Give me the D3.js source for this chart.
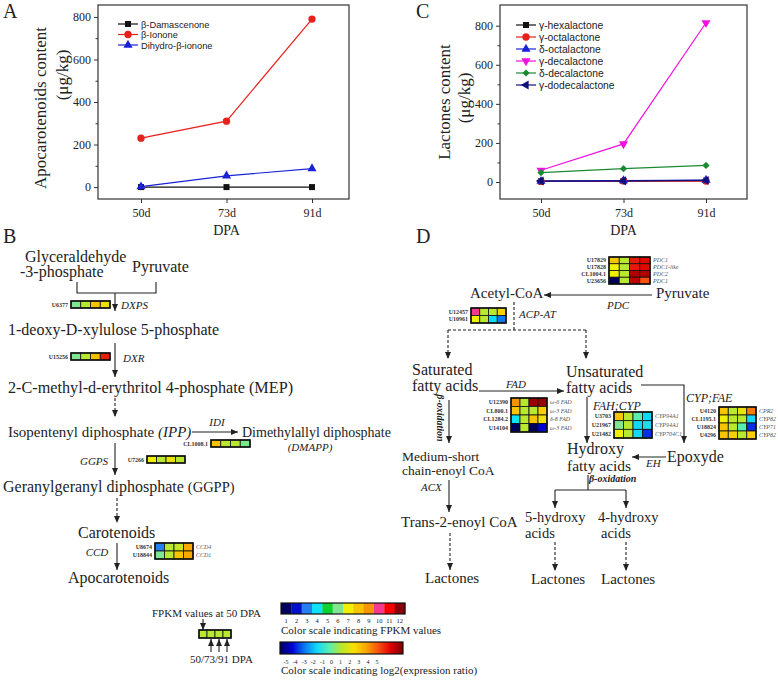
<!DOCTYPE html>
<html>
<head>
<meta charset="utf-8">
<script src="https://cdn.jsdelivr.net/npm/d3@7"></script>
<style>
body{margin:0;background:#fff;}
</style>
</head>
<body>
<div id="Figure"></div>
<script>
//Chart data------------------------------------------------------------------------------------------------
var Days = ["50d","73d","91d"];
var YTicks = [0,200,400,600,800];
var YMinorTicks = [100,300,500,700];

var ApoNames = ["β-Damascenone","β-Ionone","Dihydro-β-ionone"];
var Damascenone = [0,0,0];
var Ionone = [230,310,790];
var DihydroIonone = [2,53,87];

var LacNames = ["γ-hexalactone","γ-octalactone","δ-octalactone","γ-decalactone","δ-decalactone","γ-dodecalactone"];
var Hexalactone = [3,5,7];
var Octalactone = [3,5,5];
var DeltaOctalactone = [4,7,10];
var Decalactone = [60,195,815];
var DeltaDecalactone = [48,68,85];
var Dodecalactone = [5,6,8];

//Colour scales of the heat maps-----------------------------------------------------------------------------
var FpkmLevels = [1,2,3,4,5,6,7,8,9,10,11,12];
var FpkmColors = ["#00005e","#0010c8","#2480f0","#10e0f8","#10d030","#80e690","#f0f000","#f8c400","#f89400","#f83890","#f80000","#8a0008"];
var RatioTicks = [-5,-4,-3,-2,-1,0,1,2,3,4,5];
var RatioColors = ["#00005a","#0000d8","#0a78f0","#10d8f8","#58ecb0","#b8e830","#f8e000","#f8a800","#f85010","#e00000","#7a0000"];

//Genes: id, FPKM level at 50 DPA, log2 ratio at 50/73/91 DPA, gene name
var DxpsIds = ["U6377"];        var DxpsFpkm = [6];  var DxpsRatio = [[0,1.5,0.8]];
var DxrIds = ["U15256"];        var DxrFpkm = [6];   var DxrRatio = [[0,1.6,3.6]];
var IdiIds = ["CL1008.1"];      var IdiFpkm = [8];   var IdiRatio = [[0,0,-0.7]];
var GgpsIds = ["U7266"];        var GgpsFpkm = [7];  var GgpsRatio = [[0,0.8,0]];
var CcdIds = ["U8674","U18844"];var CcdFpkm = [3,6]; var CcdRatio = [[0,0.2,2],[0,1.5,2]];
var CcdGenes = ["CCD4","CCD1"];
var PdcIds = ["U17829","U17828","CL1004.1","U23656"];
var PdcFpkm = [8,7,7,1];
var PdcRatio = [[0,3.7,3.9],[0,3.7,3.9],[0,4.5,4.5],[0,4.3,3]];
var PdcGenes = ["PDC1","PDC1-like","PDC2","PDC1"];
var AcpIds = ["U12457","U10961"];
var AcpFpkm = [10,7];
var AcpRatio = [[0,0,1.3],[0,-2,-3]];
var FadIds = ["U12390","CL800.1","CL1284.2","U14104"];
var FadFpkm = [9,8,4,1];
var FadRatio = [[0,4.7,4.7],[0,0,1.3],[0,1.5,0.9],[0,-5,-4]];
var FadGenes = ["ω-6 FAD","ω-3 FAD","δ-8 FAD","ω-3 FAD"];
var FahIds = ["U3703","U21967","U21482"];
var FahFpkm = [8,6,7];
var FahRatio = [[0,-1,-2],[0,-2,-1.8],[0,-2,-3.6]];
var FahGenes = ["CYP94A1","CYP94A1","CYP704C1"];
var CypIds = ["U4120","CL1195.1","U18824","U4296"];
var CypFpkm = [8,7,8,8];
var CypRatio = [[0,0.8,2.5],[0,0,-2],[0,-1,-3.6],[1.3,0,1.3]];
var CypGenes = ["CPR2","CYP82","CYP71","CYP82"];

var FpkmColor = d3.scaleOrdinal().domain(FpkmLevels).range(FpkmColors);
var RatioColor = d3.scaleLinear().domain(RatioTicks).range(RatioColors);

var Serif = "'Liberation Serif','Times New Roman',serif";
var Sans = "'Liberation Sans',Arial,sans-serif";
var Ink = "#222";

var Svg = d3.select("#Figure").append("svg")
	.attr("width",778)
	.attr("height",680)
	.style("display","block");

//Arrow head marker-------------------------------------------------------------------------------------------
Svg.append("defs").append("marker")
	.attr("id","Arrow")
	.attr("markerUnits","userSpaceOnUse")
	.attr("markerWidth",7)
	.attr("markerHeight",6)
	.attr("refX",7)
	.attr("refY",3)
	.attr("orient","auto")
	.append("path")
	.attr("d","M0,0L7,3L0,6z")
	.attr("fill",Ink);

//Write a text----------------------------------------------------------------------------------------------------
function Write(x,y,str,size,opts)
{
	opts = opts || {};
	var t = Svg.append("text")
		.attr("x",x)
		.attr("y",y)
		.attr("fill",opts.fill || Ink)
		.style("font-family",opts.family || Serif)
		.style("font-size",size + "px")
		.attr("text-anchor",opts.anchor || "start")
		.text(str);
	if(opts.italic) t.style("font-style","italic");
	if(opts.bold) t.style("font-weight","bold");
	if(opts.rotate) t.attr("transform","rotate(" + opts.rotate + "," + x + "," + y + ")");
	return t;
}

//Draw a line, arrow or dashed arrow-------------------------------------------------------------------------------
function Line(d,arrow,dashed)
{
	var p = Svg.append("path")
		.attr("d",d)
		.attr("fill","none")
		.attr("stroke",Ink)
		.attr("stroke-width",1.1);
	if(arrow) p.attr("marker-end","url(#Arrow)");
	if(dashed) p.attr("stroke-dasharray","3,2");
	return p;
}

//Heat map of genes---------------------------------------------------------------------------------------------
function Heatmap(x,y,cw,ch,ids,fpkm,ratio,genes)
{
	var g = Svg.append("g");
	var Rows = ids.map(function(id,i){
		return [FpkmColor(fpkm[i])].concat(ratio[i].map(function(r){return RatioColor(r);}));
	});
	var yBand = d3.scaleBand().domain(d3.range(ids.length)).range([y,y + ch*ids.length]);
	var xBand = d3.scaleBand().domain(d3.range(4)).range([x,x + cw*4]);
	Rows.forEach(function(row,i){
		row.forEach(function(c,j){
			g.append("rect")
				.attr("x",xBand(j))
				.attr("y",yBand(i))
				.attr("width",xBand.bandwidth())
				.attr("height",yBand.bandwidth())
				.attr("fill",c)
				.attr("stroke","#111")
				.attr("stroke-width",0.8);
		});
		g.append("text")
			.attr("x",x - 3)
			.attr("y",yBand(i) + yBand.bandwidth()/2 + 2)
			.attr("text-anchor","end")
			.style("font-family",Serif)
			.style("font-size","6px")
			.style("font-weight","bold")
			.attr("fill","#333")
			.text(ids[i]);
		if(genes)
		{
			g.append("text")
				.attr("x",x + cw*4 + 3)
				.attr("y",yBand(i) + yBand.bandwidth()/2 + 2)
				.style("font-family",Serif)
				.style("font-size","6px")
				.style("font-style","italic")
				.attr("fill","#555")
				.text(genes[i]);
		}
	});
	g.append("rect")
		.attr("x",x)
		.attr("y",y)
		.attr("width",cw*4)
		.attr("height",ch*ids.length)
		.attr("fill","none")
		.attr("stroke","#111")
		.attr("stroke-width",1.6);
}

//Line chart with markers------------------------------------------------------------------------------------------
function LineChart(box,yDomain,xRange,names,series,colors,symbols,legend,title)
{
	var x = d3.scalePoint().domain(Days).range(xRange);
	var y = d3.scaleLinear().domain(yDomain).range([box.bottom,box.top]);
	var g = Svg.append("g");

	g.append("g")
		.attr("transform","translate(" + box.left + ",0)")
		.call(d3.axisLeft(y).tickValues(YTicks).tickSize(4).tickPadding(3));
	g.append("g")
		.attr("transform","translate(" + box.left + ",0)")
		.call(d3.axisLeft(y).tickValues(YMinorTicks).tickSize(2.5).tickFormat(""));
	g.append("g")
		.attr("transform","translate(0," + box.bottom + ")")
		.call(d3.axisBottom(x).tickSize(4).tickPadding(5));
	g.selectAll(".domain").remove();
	g.selectAll(".tick line").attr("stroke","#333");
	g.selectAll(".tick text")
		.attr("fill",Ink)
		.style("font-family",Serif)
		.style("font-size","12px");

	g.append("rect")
		.attr("x",box.left)
		.attr("y",box.top)
		.attr("width",box.right - box.left)
		.attr("height",box.bottom - box.top)
		.attr("fill","none")
		.attr("stroke","#333")
		.attr("stroke-width",1.2);

	var line = d3.line()
		.x(function(d,i){return x(Days[i]);})
		.y(function(d){return y(d);});

	series.forEach(function(s,k){
		g.append("path")
			.attr("d",line(s))
			.attr("fill","none")
			.attr("stroke",colors[k])
			.attr("stroke-width",1.2);
	});
	series.forEach(function(s,k){
		s.forEach(function(v,i){
			g.append("path")
				.attr("d",d3.symbol().type(symbols[k].type).size(symbols[k].size)())
				.attr("transform","translate(" + x(Days[i]) + "," + y(v) + ") rotate(" + symbols[k].rot + ")")
				.attr("fill",colors[k]);
		});
	});

	//Legend
	names.forEach(function(n,k){
		var ly = legend.y + k*legend.step;
		g.append("line")
			.attr("x1",legend.x)
			.attr("x2",legend.x + 20)
			.attr("y1",ly)
			.attr("y2",ly)
			.attr("stroke",colors[k])
			.attr("stroke-width",1.2);
		g.append("path")
			.attr("d",d3.symbol().type(symbols[k].type).size(symbols[k].size)())
			.attr("transform","translate(" + (legend.x + 10) + "," + ly + ") rotate(" + symbols[k].rot + ")")
			.attr("fill",colors[k]);
		g.append("text")
			.attr("x",legend.x + 23)
			.attr("y",ly + 3.5)
			.attr("fill",Ink)
			.style("font-family",Sans)
			.style("font-size",legend.size + "px")
			.text(n);
	});

	//Titles
	Write(title.x1,title.y1,title.line1,17,{anchor:"middle",rotate:-90});
	Write(title.x2,title.y2,"(μg/kg)",17,{anchor:"middle",rotate:-90});
	Write((xRange[0] + xRange[1])/2,235,"DPA",14,{anchor:"middle"});
}

//Panel A---------------------------------------------------------------------------------------------------------
var Square = {type:d3.symbolSquare,size:36,rot:0};
var Circle = {type:d3.symbolCircle,size:42,rot:0};
var TriUp = {type:d3.symbolTriangle,size:36,rot:0};
var TriDown = {type:d3.symbolTriangle,size:36,rot:180};
var Diamond = {type:d3.symbolSquare,size:26,rot:45};
var TriLeft = {type:d3.symbolTriangle,size:36,rot:-90};

LineChart({left:98,right:349,top:5,bottom:199},[-56,856],[141,312],
	ApoNames,[Damascenone,Ionone,DihydroIonone],
	["#111111","#e8201c","#1a22d8"],[Square,Circle,TriUp],
	{x:118,y:24,step:10.5,size:9.3},
	{line1:"Apocarotenoids content",x1:46,y1:108,x2:68,y2:75});

//Panel C---------------------------------------------------------------------------------------------------------
LineChart({left:500,right:747,top:5,bottom:199},[-87,906],[541,706],
	LacNames,[Hexalactone,Octalactone,DeltaOctalactone,Decalactone,DeltaDecalactone,Dodecalactone],
	["#111111","#e8201c","#1a22d8","#f010e0","#1a8a30","#10107a"],[Square,Circle,TriUp,TriDown,Diamond,TriLeft],
	{x:516,y:25,step:12,size:10.3},
	{line1:"Lactones content",x1:450,y1:102,x2:470,y2:98});

//Panel letters----------------------------------------------------------------------------------------------------
Write(3,18,"A",20);
Write(416,18,"C",20);
Write(3,243,"B",20);
Write(416,243,"D",20);

//Panel B: carotenoid pathway---------------------------------------------------------------------------------------
Write(25,262,"Glyceraldehyde",16);
Write(20,277,"-3-phosphate",16);
Write(132,272,"Pyruvate",16);
Line("M77,282V293H156V282");
Line("M115,293V311",true);
Heatmap(71,301,9.75,7,DxpsIds,DxpsFpkm,DxpsRatio);
Write(121,309,"DXPS",11,{italic:true});

Write(8,335,"1-deoxy-D-xylulose 5-phosphate",16);
Line("M115,343V377",true);
Heatmap(71,353,9.75,7,DxrIds,DxrFpkm,DxrRatio);
Write(123,362,"DXR",11,{italic:true});

Write(8,393,"2-C-methyl-d-erythritol 4-phosphate (MEP)",16.2);
Line("M115,398V417",true,true);

var Ipp = Write(8,437,"Isopentenyl diphosphate ",15);
Ipp.append("tspan").style("font-style","italic").text("(IPP)");
Line("M192,432H238",true);
Write(217,426,"IDI",11,{italic:true,anchor:"middle"});
Write(242,437,"Dimethylallyl diphosphate",14);
Write(310,451,"(DMAPP)",11,{italic:true,anchor:"middle"});
Heatmap(211,440,9.75,7,IdiIds,IdiFpkm,IdiRatio);

Line("M115,443V475",true);
Write(94,465,"GGPS",11,{italic:true,anchor:"middle"});
Heatmap(147,456,9.5,7,GgpsIds,GgpsFpkm,GgpsRatio);

var Ggpp = Write(3,492,"Geranylgeranyl diphosphate ",16);
Ggpp.append("tspan").style("font-size","14.5px").text("(GGPP)");
Line("M117,498V523",true,true);
Write(78,538,"Carotenoids",16);
Line("M117,543V570",true);
Write(97,556,"CCD",11,{italic:true,anchor:"middle"});
Heatmap(155,543,9.5,8,CcdIds,CcdFpkm,CcdRatio,CcdGenes);
Write(68,583,"Apocarotenoids",16);

//Legend of the heat maps--------------------------------------------------------------------------------------------
Write(152,617,"FPKM values at 50 DPA",11);
Line("M203,619V630",true);
var LegendRow = Svg.append("g");
d3.range(4).forEach(function(j){
	LegendRow.append("rect")
		.attr("x",199 + j*8)
		.attr("y",630)
		.attr("width",8)
		.attr("height",8)
		.attr("fill",RatioColor(0))
		.attr("stroke","#111")
		.attr("stroke-width",0.8);
});
LegendRow.append("rect").attr("x",199).attr("y",630).attr("width",32).attr("height",8)
	.attr("fill","none").attr("stroke","#111").attr("stroke-width",1.6);
[211,219,227].forEach(function(ax){
	Line("M" + ax + ",652V639",true);
});
Write(190,663,"50/73/91 DPA",11);

var FpkmBand = d3.scaleBand().domain(FpkmLevels).range([281,405]);
var FpkmBar = Svg.append("g");
FpkmBar.selectAll("rect").data(FpkmLevels).enter().append("rect")
	.attr("x",function(d){return FpkmBand(d);})
	.attr("y",603)
	.attr("width",FpkmBand.bandwidth() + 0.3)
	.attr("height",11)
	.attr("fill",function(d){return FpkmColor(d);});
FpkmBar.append("rect").attr("x",281).attr("y",603).attr("width",124).attr("height",11)
	.attr("fill","none").attr("stroke","#111").attr("stroke-width",1.2);
FpkmBar.selectAll("text").data(FpkmLevels).enter().append("text")
	.attr("x",function(d){return FpkmBand(d) + FpkmBand.bandwidth()/2;})
	.attr("y",623)
	.attr("text-anchor","middle")
	.style("font-family",Serif)
	.style("font-size","6.5px")
	.attr("fill",Ink)
	.text(function(d){return d;});
Write(281,634,"Color scale indicating FPKM values",11);

var Grad = Svg.select("defs").append("linearGradient").attr("id","RatioGrad");
RatioTicks.forEach(function(t,i){
	Grad.append("stop")
		.attr("offset",(i/(RatioTicks.length - 1)*100) + "%")
		.attr("stop-color",RatioColor(t));
});
Svg.append("rect").attr("x",280).attr("y",642).attr("width",123).attr("height",12)
	.attr("fill","url(#RatioGrad)").attr("stroke","#111").attr("stroke-width",1.2);
var RatioPos = d3.scaleLinear().domain([-5,5]).range([286,377]);
Svg.append("g").selectAll("text").data(RatioTicks).enter().append("text")
	.attr("x",function(d){return RatioPos(d);})
	.attr("y",664)
	.attr("text-anchor","middle")
	.style("font-family",Serif)
	.style("font-size","6px")
	.attr("fill",Ink)
	.text(function(d){return d;});
Write(281,674,"Color scale indicating log2(expression ratio)",11);

//Panel D: lactone pathway-----------------------------------------------------------------------------------------
Heatmap(609,257,10.25,6.75,PdcIds,PdcFpkm,PdcRatio,PdcGenes);
Write(656,298,"Pyruvate",15);
Line("M652,295H544",true);
Write(618,309,"PDC",11,{italic:true,anchor:"middle"});
Write(470,298,"Acetyl-CoA",15);
Heatmap(471,308,8.75,7.5,AcpIds,AcpFpkm,AcpRatio);
Write(519,318,"ACP-AT",11,{italic:true});
Line("M514,302V330",false,true);
Line("M448,330H586",false,true);
Line("M448,330V359",true,true);
Line("M586,330V359",true,true);

Write(412,375,"Saturated",16);
Write(412,391,"fatty acids",16);
Write(566,377,"Unsaturated",16);
Write(566,393,"fatty acids",16);
Line("M479,391H564",true);
Write(506,388,"FAD",11,{italic:true});
Heatmap(511,398,9,8.5,FadIds,FadFpkm,FadRatio,FadGenes);

Line("M641,385H684V443",true);
Write(686,402,"CYP;FAE",12,{italic:true});
Heatmap(719,407,9.25,8,CypIds,CypFpkm,CypRatio,CypGenes);

Line("M449,400V443",true);
Write(437,418,"β-oxidation",10,{italic:true,bold:true,anchor:"middle",rotate:90});
Write(402,461,"Medium-short",13.5);
Write(402,475,"chain-enoyl CoA",13.5);
Line("M449,480V512",true);
Write(421,491,"ACX",11,{italic:true});
Write(401,527,"Trans-2-enoyl CoA",15);

Line("M587,397V443",true);
Write(593,410,"FAH;CYP",12,{italic:true});
Heatmap(614,412,9.5,8.67,FahIds,FahFpkm,FahRatio,FahGenes);

Write(567,454,"Hydroxy",16);
Write(567,471,"fatty acids",15.5);
Write(667,462,"Epoxyde",16);
Line("M666,457H632",true);
Write(646,467,"EH",11,{italic:true});
Write(589,482,"β-oxidation",10,{italic:true,bold:true});
Line("M588,475V490");
Line("M555,490H626");
Line("M555,490V508",true);
Line("M626,490V508",true);

Write(525,522,"5-hydroxy",14.5);
Write(525,538,"acids",14.5);
Write(598,522,"4-hydroxy",14.5);
Write(601,538,"acids",14.5);

Line("M450,533V570",true,true);
Line("M555,542V571",true,true);
Line("M626,542V571",true,true);
Write(425,583,"Lactones",15);
Write(531,584,"Lactones",15);
Write(601,584,"Lactones",15);
</script>
</body>
</html>
